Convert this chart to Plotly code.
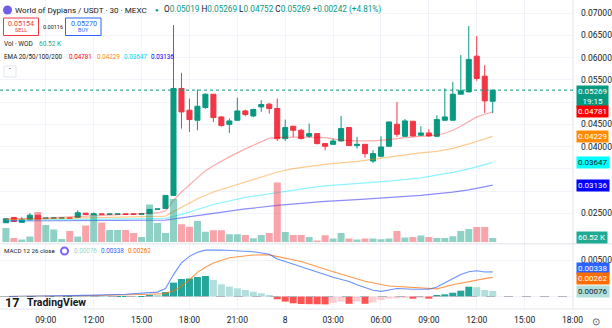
import pandas as pd
import plotly.graph_objects as go

# ---------------- data ----------------
start_time = "2025-03-07 06:30"
n_bars = 62
opens = [0.02290, 0.02410, 0.02300, 0.02357, 0.02461, 0.02392, 0.02394, 0.02395, 0.02396, 0.02410,
         0.02506, 0.02470, 0.02486, 0.02483, 0.02485, 0.02486, 0.02484, 0.02483, 0.02492, 0.02595,
         0.02612, 0.02905, 0.05306, 0.04817, 0.04592, 0.04878, 0.05177, 0.04667, 0.04500, 0.04592,
         0.04802, 0.04689, 0.04892, 0.04953, 0.04856, 0.04180, 0.04457, 0.04367, 0.04232, 0.04292,
         0.04068, 0.04052, 0.04127, 0.04428, 0.04023, 0.04052, 0.03676, 0.03782, 0.04007, 0.04502,
         0.04232, 0.04570, 0.04255, 0.04307, 0.04232, 0.04592, 0.04592, 0.05177, 0.05229, 0.06032,
         0.05582, 0.05019]
highs = [0.02385, 0.02415, 0.02416, 0.02506, 0.02465, 0.02394, 0.02395, 0.02396, 0.02396, 0.02567,
         0.02510, 0.02520, 0.02486, 0.02485, 0.02486, 0.02486, 0.02484, 0.02490, 0.02595, 0.02600,
         0.02905, 0.06730, 0.05657, 0.05080, 0.05283, 0.05190, 0.05180, 0.04680, 0.04630, 0.05103,
         0.04830, 0.04850, 0.05042, 0.04980, 0.05080, 0.04608, 0.04470, 0.04400, 0.04518, 0.04300,
         0.04075, 0.04180, 0.04689, 0.04435, 0.04217, 0.04060, 0.03917, 0.04232, 0.04560, 0.05004,
         0.04620, 0.04575, 0.04457, 0.04390, 0.04705, 0.05306, 0.05454, 0.06055, 0.06707, 0.06482,
         0.05830, 0.05269]
lows = [0.02285, 0.02315, 0.02295, 0.02350, 0.02365, 0.02392, 0.02394, 0.02395, 0.02393, 0.02405,
        0.02477, 0.02465, 0.02483, 0.02483, 0.02485, 0.02484, 0.02483, 0.02483, 0.02490, 0.02595,
        0.02605, 0.02900, 0.04405, 0.04329, 0.04367, 0.04850, 0.04554, 0.04450, 0.04307, 0.04585,
        0.04682, 0.04660, 0.04780, 0.04743, 0.04127, 0.04127, 0.04217, 0.04160, 0.04200, 0.04050,
        0.03917, 0.04045, 0.04120, 0.04015, 0.03955, 0.03753, 0.03631, 0.03760, 0.04000, 0.04220,
        0.04225, 0.04230, 0.04250, 0.04230, 0.04225, 0.04585, 0.04585, 0.05170, 0.05220, 0.05477,
        0.04757, 0.04752]
closes = [0.02380, 0.02320, 0.02360, 0.02461, 0.02371, 0.02394, 0.02395, 0.02396, 0.02393, 0.02515,
          0.02477, 0.02492, 0.02483, 0.02485, 0.02486, 0.02484, 0.02483, 0.02490, 0.02590, 0.02598,
          0.02905, 0.05306, 0.04779, 0.04608, 0.04907, 0.05177, 0.04653, 0.04473, 0.04577, 0.04802,
          0.04721, 0.04833, 0.04946, 0.04856, 0.04180, 0.04428, 0.04367, 0.04180, 0.04292, 0.04068,
          0.04007, 0.04127, 0.04405, 0.04023, 0.04052, 0.03843, 0.03843, 0.03992, 0.04554, 0.04277,
          0.04577, 0.04239, 0.04307, 0.04239, 0.04608, 0.04667, 0.05177, 0.05252, 0.05958, 0.05530,
          0.05027, 0.05269]
volumes = [211000, 60000, 38000, 83000, 453000, 257000, 189000, 45000, 166000, 83000,
           249000, 423000, 294000, 181000, 181000, 181000, 136000, 75000, 566000, 287000,
           136000, 649000, 267000, 231000, 317000, 156000, 177000, 177000, 116000, 116000,
           106000, 56000, 106000, 136000, 895000, 151000, 106000, 106000, 75000, 23000,
           101000, 51000, 136000, 51000, 36000, 51000, 51000, 41000, 51000, 166000,
           66000, 75000, 97000, 75000, 60000, 60000, 86000, 166000, 196000, 227000,
           227000, 60520]

ema20_idx = [0, 5, 10, 15, 18, 19, 20, 21, 22, 23, 24, 25, 26, 28, 30, 32, 33, 34, 36, 38, 40, 42, 44, 46,
             48, 50, 52, 54, 55, 56, 57, 58, 59, 60, 61]
ema20_val = [0.02380, 0.02395, 0.02440, 0.02475, 0.02495, 0.02510, 0.02556, 0.02790, 0.02980, 0.03140,
             0.03300, 0.03460, 0.03570, 0.03770, 0.03950, 0.04120, 0.04190, 0.04200, 0.04215, 0.04210,
             0.04200, 0.04145, 0.04127, 0.04127, 0.04155, 0.04200, 0.04232, 0.04258, 0.04300, 0.04367,
             0.04457, 0.04570, 0.04667, 0.04727, 0.04781]
ema50_idx = [0, 10, 18, 20, 21, 22, 24, 26, 28, 30, 32, 34, 36, 38, 40, 44, 48, 52, 54, 56, 58, 60, 61]
ema50_val = [0.02360, 0.02400, 0.02430, 0.02440, 0.02540, 0.02640, 0.02830, 0.02980, 0.03090, 0.03200,
             0.03315, 0.03430, 0.03505, 0.03555, 0.03600, 0.03670, 0.03767, 0.03860, 0.03895, 0.03960,
             0.04060, 0.04180, 0.04229]
ema100_idx = [0, 10, 18, 20, 22, 24, 26, 30, 34, 38, 40, 44, 48, 52, 56, 58, 61]
ema100_val = [0.02345, 0.02370, 0.02380, 0.02390, 0.02480, 0.02590, 0.02700, 0.02860, 0.02975, 0.03075,
              0.03120, 0.03165, 0.03225, 0.03300, 0.03420, 0.03500, 0.03647]
ema200_idx = [0, 10, 18, 20, 22, 26, 30, 34, 40, 44, 48, 52, 56, 58, 61]
ema200_val = [0.02330, 0.02340, 0.02345, 0.02350, 0.02400, 0.02500, 0.02600, 0.02680, 0.02770, 0.02808,
              0.02853, 0.02905, 0.02979, 0.03030, 0.03136]

macd_idx = [0, 5, 10, 15, 18, 19, 20, 21, 22, 23, 24, 25, 27, 29, 31, 33, 34, 35, 37, 39, 41, 43, 44,
            46, 47, 48, 49, 51, 53, 54, 56, 57, 58, 59, 60, 61]
macd_val = [0.00000, 0.00005, 0.00015, 0.00030, 0.00045, 0.00060, 0.00110, 0.00300, 0.00460, 0.00550,
            0.00605, 0.00635, 0.00637, 0.00625, 0.00614, 0.00580, 0.00515, 0.00480, 0.00405, 0.00330,
            0.00263, 0.00205, 0.00160, 0.00085, 0.00070, 0.00090, 0.00110, 0.00100, 0.00100, 0.00130,
            0.00236, 0.00300, 0.00340, 0.00353, 0.00335, 0.00338]
signal_idx = [0, 10, 18, 20, 21, 22, 23, 24, 25, 26, 28, 31, 33, 34, 37, 41, 45, 48, 51, 54, 56, 58,
              60, 61]
signal_val = [0.00000, 0.00010, 0.00030, 0.00040, 0.00080, 0.00140, 0.00230, 0.00330, 0.00400, 0.00460,
              0.00530, 0.00568, 0.00570, 0.00550, 0.00480, 0.00340, 0.00210, 0.00144, 0.00121, 0.00105,
              0.00160, 0.00206, 0.00245, 0.00262]
hist_val = [0.00003, 0.00002, 0.00002, 0.00004, 0.00002, 0.00001, 0.00001, 0.00001, 0.00001, 0.00004,
            0.00003, 0.00004, 0.00003, 0.00002, 0.00002, 0.00002, 0.00001, 0.00001, 0.00018, 0.00015,
            0.00060, 0.00190, 0.00240, 0.00246, 0.00267, 0.00281, 0.00226, 0.00167, 0.00134, 0.00112,
            0.00089, 0.00066, 0.00044, 0.00020, -0.00038, -0.00070, -0.00093, -0.00103, -0.00105, -0.00106,
            -0.00108, -0.00090, -0.00070, -0.00100, -0.00070, -0.00100, -0.00080, -0.00050, -0.00030, -0.00025,
            -0.00020, -0.00030, -0.00020, -0.00030, 0.00010, 0.00030, 0.00052, 0.00080, 0.00134, 0.00128,
            0.00089, 0.00076]

price_ticks = [0.025, 0.030, 0.035, 0.040, 0.045, 0.050, 0.055, 0.060, 0.065, 0.070]
price_tick_text = ["0.02500", "", "", "0.04000", "0.04500", "", "0.05500", "0.06000", "0.06500", "0.07000"]
macd_ticks = [0, 0.005]
macd_tick_text = ["", "0.00500"]
time_tick_vals = ["2025-03-07 09:00", "2025-03-07 12:00", "2025-03-07 15:00", "2025-03-07 18:00",
                  "2025-03-07 21:00", "2025-03-08 00:00", "2025-03-08 03:00", "2025-03-08 06:00",
                  "2025-03-08 09:00", "2025-03-08 12:00", "2025-03-08 15:00", "2025-03-08 18:00"]
time_tick_text = ["09:00", "12:00", "15:00", "18:00", "21:00", "8", "03:00", "06:00", "09:00", "12:00",
                  "15:00", "18:00"]

# ---------------- styling ----------------
UP = "#089981"
DN = "#f23645"
TXT = "#131722"
GRID = "#f0f3fa"
FONT = "Roboto"
PW, PH = 573.0, 309.0


def px(x):
    return x / PW


def py(y):
    return (PH - y) / PH


times = pd.date_range(start_time, periods=n_bars, freq="30min")

fig = go.Figure()

# volume (behind)
vol_colors = ["rgba(8,153,129,0.45)" if c >= o else "rgba(242,54,69,0.45)" for o, c in zip(opens, closes)]
fig.add_trace(go.Bar(x=times, y=volumes, marker=dict(color=vol_colors, line=dict(width=0)),
                     xaxis="x", yaxis="y2", hoverinfo="skip"))

# EMAs
for idx, val, col in [(ema200_idx, ema200_val, "rgba(0,0,255,0.45)"),
                      (ema100_idx, ema100_val, "rgba(0,230,255,0.45)"),
                      (ema50_idx, ema50_val, "rgba(255,140,0,0.45)"),
                      (ema20_idx, ema20_val, "rgba(255,0,0,0.33)")]:
    fig.add_trace(go.Scatter(x=times[idx], y=val, mode="lines", line=dict(color=col, width=1.2),
                             xaxis="x", yaxis="y", hoverinfo="skip"))

# candles
fig.add_trace(go.Candlestick(x=times, open=opens, high=highs, low=lows, close=closes,
                             increasing=dict(line=dict(color=UP, width=1), fillcolor=UP),
                             decreasing=dict(line=dict(color=DN, width=1), fillcolor=DN),
                             whiskerwidth=0, xaxis="x", yaxis="y", hoverinfo="skip"))

# MACD histogram
hcols = []
for k, v in enumerate(hist_val):
    prev = hist_val[k - 1] if k > 0 else v
    if v >= 0:
        hcols.append("#26a69a" if v >= prev else "#b2dfdb")
    else:
        hcols.append("#ffcdd2" if v >= prev else "#ff5252")
fig.add_trace(go.Bar(x=times, y=hist_val, marker=dict(color=hcols, line=dict(width=0)),
                     xaxis="x2", yaxis="y3", hoverinfo="skip"))
fig.add_trace(go.Scatter(x=times[signal_idx], y=signal_val, mode="lines",
                         line=dict(color="rgba(255,109,0,0.7)", width=1.1), xaxis="x2", yaxis="y3"))
fig.add_trace(go.Scatter(x=times[macd_idx], y=macd_val, mode="lines",
                         line=dict(color="rgba(41,98,255,0.7)", width=1.1), xaxis="x2", yaxis="y3"))

xrange = ["2025-03-07 06:07:48", "2025-03-08 18:01:50"]
price_range = [0.018245, 0.072925]
vol_range = [-22650, 3646650]
macd_range = [-0.001712, 0.007192]

fig.update_layout(
    width=612, height=328, margin=dict(l=0, r=39, t=0, b=19),
    paper_bgcolor="white", plot_bgcolor="white", showlegend=False,
    bargap=0.12, boxgap=0.1, font=dict(family=FONT, color=TXT, size=9),
    xaxis=dict(domain=[0, 1], anchor="y", range=xrange, type="date", showticklabels=False,
               tickvals=time_tick_vals, showgrid=True, gridcolor=GRID, gridwidth=1,
               zeroline=False, showline=False, rangeslider=dict(visible=False), fixedrange=True),
    xaxis2=dict(domain=[0, 1], anchor="y3", range=xrange, type="date", matches="x",
                tickvals=time_tick_vals, ticktext=time_tick_text, showgrid=True, gridcolor=GRID,
                tickfont=dict(size=8.5, color=TXT, family=FONT), ticks="", ticklabelstandoff=4,
                zeroline=False, showline=False, rangeslider=dict(visible=False)),
    yaxis=dict(domain=[(PH - 243.5) / PH, 1], anchor="x", side="right", range=price_range,
               tickvals=price_ticks, ticktext=price_tick_text, showgrid=True, gridcolor=GRID,
               tickfont=dict(size=8.5, color=TXT, family=FONT), ticks="", ticklabelstandoff=7,
               zeroline=False, showline=False),
    yaxis2=dict(overlaying="y", anchor="x", range=vol_range, visible=False, showgrid=False),
    yaxis3=dict(domain=[0, (PH - 244) / PH], anchor="x2", side="right", range=macd_range,
                tickvals=macd_ticks, ticktext=macd_tick_text, showgrid=True, gridcolor=GRID,
                tickfont=dict(size=8.5, color=TXT, family=FONT), ticks="", ticklabelstandoff=7,
                zeroline=False, showline=False),
)

shapes = []
# pane separator and axis border
shapes.append(dict(type="line", xref="paper", yref="paper", x0=0, x1=612 / PW, y0=py(243.8), y1=py(243.8),
                   line=dict(color="#e0e3eb", width=1)))
shapes.append(dict(type="line", xref="paper", yref="paper", x0=1, x1=1, y0=0, y1=py(0),
                   line=dict(color="#e0e3eb", width=1)))
shapes.append(dict(type="line", xref="paper", yref="paper", x0=0, x1=612 / PW, y0=0, y1=0,
                   line=dict(color="#e0e3eb", width=1)))
# current price dotted line
shapes.append(dict(type="line", xref="paper", yref="y", x0=0, x1=1, y0=closes[-1], y1=closes[-1],
                   line=dict(color=UP, width=1, dash="dot")))
# MACD zero line
shapes.append(dict(type="line", xref="paper", yref="y3", x0=0, x1=1, y0=0, y1=0,
                   line=dict(color="#b2b5be", width=1, dash="dash")))
# header decorations
shapes.append(dict(type="circle", xref="paper", yref="paper", x0=px(3), x1=px(12), y0=py(14.5), y1=py(5.5),
                   fillcolor="#6f5ee8", line=dict(width=0)))
shapes.append(dict(type="rect", xref="paper", yref="paper", x0=px(3.5), x1=px(38.5), y0=py(35.5), y1=py(18),
                   line=dict(color=DN, width=1), fillcolor="white"))
shapes.append(dict(type="rect", xref="paper", yref="paper", x0=px(65.5), x1=px(101), y0=py(35.5), y1=py(18),
                   line=dict(color="#2962ff", width=1), fillcolor="white"))
shapes.append(dict(type="circle", xref="paper", yref="paper", x0=px(61), x1=px(68), y0=py(254.5), y1=py(247.5),
                   fillcolor="white", line=dict(color="#7b61ff", width=2)))
shapes.append(dict(type="rect", xref="paper", yref="paper", x0=px(4), x1=px(16), y0=py(77), y1=py(66),
                   line=dict(color="#e0e3eb", width=1), fillcolor="white"))
fig.update_layout(shapes=shapes)

ann = []


def text(x, y, s, color=TXT, size=8, anchor="left", bold=False, fam=FONT):
    ann.append(dict(xref="paper", yref="paper", x=px(x), y=py(y), text=("<b>%s</b>" % s) if bold else s,
                    showarrow=False, xanchor=anchor, yanchor="middle", borderpad=0,
                    font=dict(color=color, size=size, family=fam)))


text(14, 10, "World of Dypians / USDT · 30 · MEXC", size=8.1)
text(157, 10, "●", color=UP, size=6, anchor="center")
g = "<span style='color:%s'>%%s</span>" % UP
ohlc = ("O" + g % "0.05019" + " H" + g % "0.05269" + " L" + g % "0.04752" + " C" + g % "0.05269"
        + " " + g % "+0.00242 (+4.81%)")
text(163, 10, ohlc, size=8.2)
text(21, 23.5, "0.05154", color=DN, size=7.2, anchor="center")
text(21, 30.5, "SELL", color=DN, size=5.5, anchor="center")
text(52.5, 27, "0.00116", size=5.5, anchor="center")
text(83.5, 23.5, "0.05270", color="#2962ff", size=7.2, anchor="center")
text(83.5, 30.5, "BUY", color="#2962ff", size=5.5, anchor="center")
text(3, 44, "Vol · WOD", size=6.5)
text(38, 44, "60.52 K", color="#22ab94", size=6.5)
text(3, 57.5, "EMA 20/50/100/200", size=6.3)
text(68, 57.5, "0.04781", color="#ff0000", size=6.3)
text(95.5, 57.5, "0.04229", color="#ff8c00", size=6.3)
text(122.5, 57.5, "0.03647", color="#00d8f0", size=6.3)
text(149.5, 57.5, "0.03136", color="#0000ff", size=6.3)
text(10, 71.5, "ˆ", color="#50535e", size=8, anchor="center")
text(3, 251, "MACD 12 26 close", size=6.2)
text(73, 251, "0.00076", color="#98d4cc", size=6.3)
text(100, 251, "0.00338", color="#2962ff", size=6.3)
text(127, 251, "0.00262", color="#ff6d00", size=6.3)
text(4, 302, "17", size=12.5, bold=True)
text(26, 302, "TradingView", size=10.5, bold=True)
text(596, 321, "⊙", color="#50535e", size=10, anchor="center")


def box(yref, yv, s, bg, fg="white", yshift=0, anchor="middle"):
    ann.append(dict(xref="paper", yref=yref, x=1, y=yv, text=s, showarrow=False, xanchor="left",
                    yanchor=anchor, xshift=3, yshift=yshift, bgcolor=bg, borderpad=1,
                    font=dict(color=fg, size=8, family=FONT), align="center"))


box("y", closes[-1], "0.05269<br>19:15", UP, yshift=5.5, anchor="top")
box("y", ema20_val[-1], "0.04781", "#ff0000")
box("y", ema50_val[-1], "0.04229", "#ff8c00")
box("y", ema100_val[-1], "0.03647", "#00ffff", fg=TXT)
box("y", ema200_val[-1], "0.03136", "#0000ff")
box("y2", volumes[-1], "60.52 K", "#22ab94")
box("y3", macd_val[-1], "0.00338", "#2962ff", yshift=3)
box("y3", signal_val[-1], "0.00262", "#ff6d00", yshift=-1)
box("y3", hist_val[-1], "0.00076", "#b2dfdb", fg=TXT, yshift=-1)
fig.update_layout(annotations=ann)

fig.write_html("out.html")
